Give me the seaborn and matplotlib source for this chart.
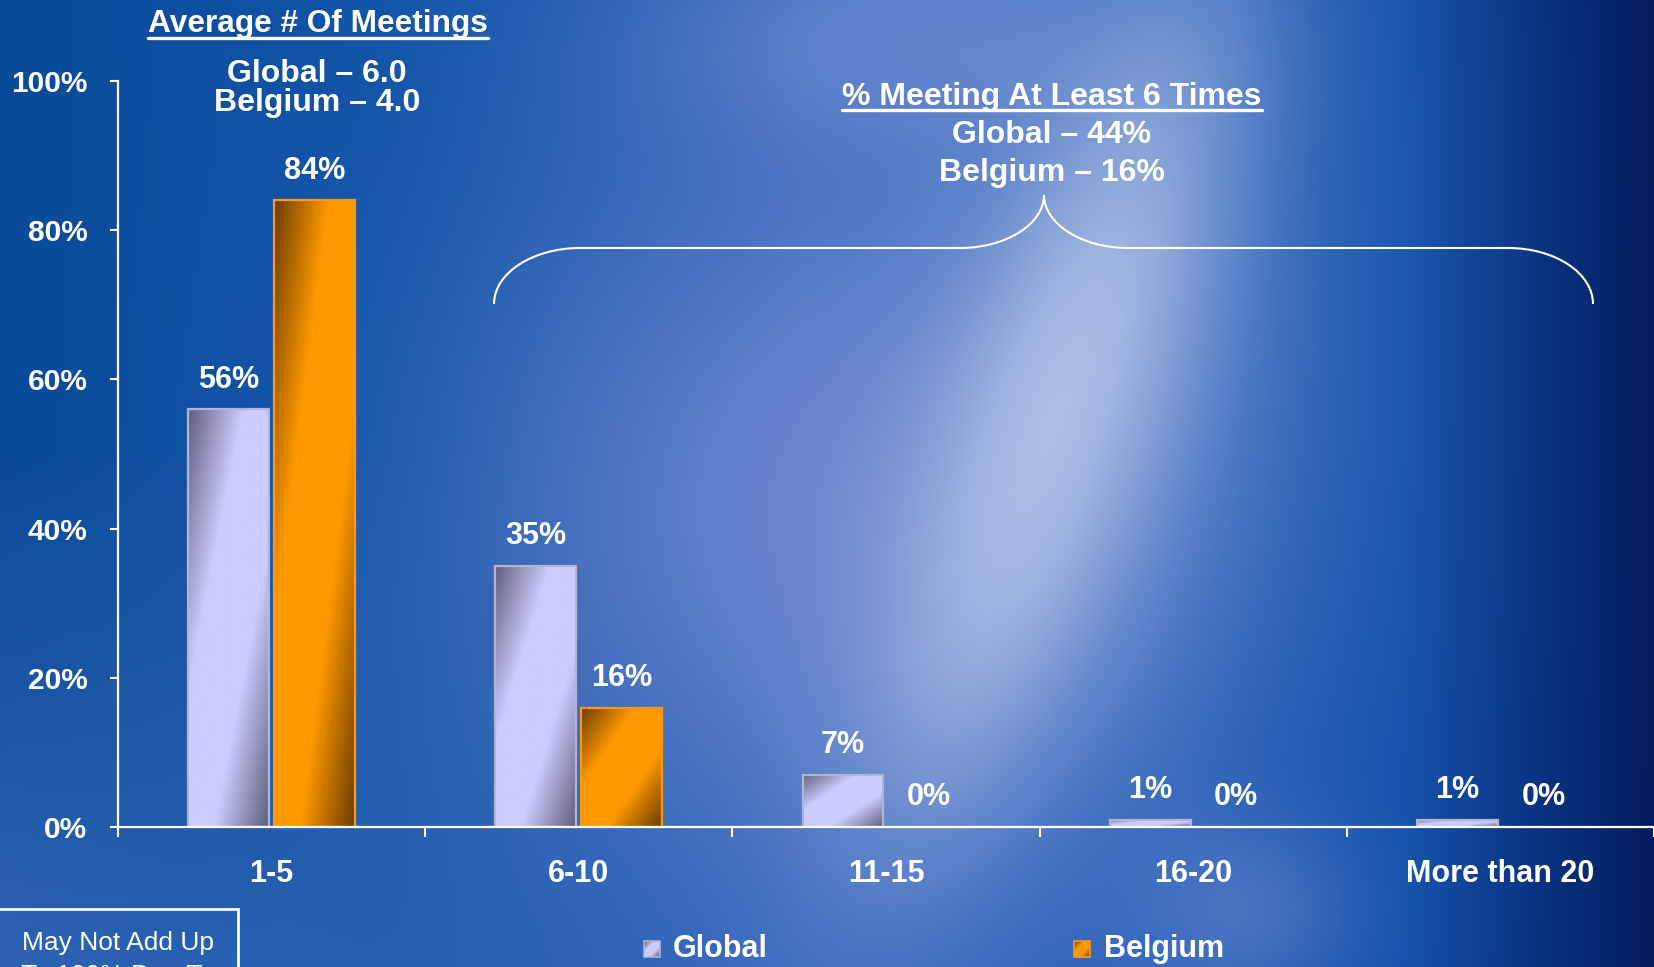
import numpy as np
import pandas as pd
import matplotlib
matplotlib.use("Agg")
import matplotlib.pyplot as plt
import seaborn as sns
from matplotlib.path import Path
from matplotlib.patches import PathPatch, Rectangle
from matplotlib.lines import Line2D

# ---------------- data ----------------
categories = ["1-5", "6-10", "11-15", "16-20", "More than 20"]
series = ["Global", "Belgium"]
global_vals = [56, 35, 7, 1, 1]
belgium_vals = [84, 16, 0, 0, 0]
y_ticks = [0, 20, 40, 60, 80, 100]
y_tick_labels = ["0%", "20%", "40%", "60%", "80%", "100%"]

title_left = "Average # Of Meetings"
left_lines = ["Global \u2013 6.0", "Belgium \u2013 4.0"]
title_right = "% Meeting At Least 6 Times"
right_lines = ["Global \u2013 44%", "Belgium \u2013 16%"]
note_lines = ["May Not Add Up", "To 100% Due To"]

df = pd.DataFrame({
    "Category": categories * 2,
    "Series": [series[0]] * len(categories) + [series[1]] * len(categories),
    "Value": global_vals + belgium_vals,
})

W, H = 1654, 967
DPI = 100
FONT = ["Liberation Sans", "DejaVu Sans"]

sns.set_theme(style="white")
plt.rcParams["font.family"] = FONT

fig = plt.figure(figsize=(W / DPI, H / DPI), dpi=DPI)


# ---------------- background ----------------
def make_background():
    yy, xx = np.mgrid[0:H, 0:W].astype(float)
    xs = [0, 400, 800, 1150, 1400, 1540, 1654]
    cs = np.array([(10, 74, 154), (18, 84, 168), (50, 100, 188), (40, 96, 184),
                   (18, 82, 170), (8, 50, 128), (4, 28, 92)], float)
    img = np.zeros((H, W, 3))
    for k in range(3):
        img[..., k] = np.interp(xx, xs, cs[:, k])
    # lighter lower-left
    a = np.clip((yy - 450) / 520, 0, 1) * np.clip((900 - xx) / 900, 0, 1)
    img = img * (1 - 0.55 * a[..., None]) + np.array([78, 118, 198]) * (0.55 * a[..., None])

    def mix(img, alpha, col):
        alpha = np.clip(alpha, 0, 1)[..., None]
        return img * (1 - alpha) + np.array(col, float) * alpha

    # diffuse lavender cloud
    g = np.exp(-(((xx - 830) / 360) ** 2 + ((yy - 500) / 330) ** 2))
    img = mix(img, 0.75 * g, (115, 138, 208))
    # top glow
    g = np.exp(-(((xx - 920) / 260) ** 2 + ((yy - 40) / 120) ** 2))
    img = mix(img, 0.6 * g, (125, 148, 212))
    # bright beam
    p0 = np.array([1170.0, 90.0]); p1 = np.array([900.0, 860.0])
    d = p1 - p0; L = np.hypot(*d); u = d / L
    rx, ry = xx - p0[0], yy - p0[1]
    along = rx * u[0] + ry * u[1]
    perp = rx * (-u[1]) + ry * u[0]
    env = np.exp(-((along - 0.42 * L) / (0.48 * L)) ** 2)
    g = np.exp(-(perp / 110) ** 2) * env
    img = mix(img, 0.85 * g, (198, 210, 238))
    g = np.exp(-(perp / 230) ** 2) * env
    img = mix(img, 0.35 * g, (160, 180, 225))
    # lower right streak
    g = np.exp(-(((xx - 1240) / 110) ** 2 + ((yy - 910) / 90) ** 2))
    img = mix(img, 0.5 * g, (110, 135, 205))
    return np.clip(img, 0, 255).astype(np.uint8)


fig.figimage(make_background(), xo=0, yo=0, origin="upper", zorder=-10)

# ---------------- axes ----------------
ax_left, ax_bottom = 118, 140
ax_h = 746
ax = fig.add_axes([ax_left / W, ax_bottom / H, (W - ax_left) / W, ax_h / H])
ax.patch.set_alpha(0)

sns.barplot(data=df, x="Category", y="Value", hue="Series", order=categories,
            hue_order=series, palette=["#ccccff", "#ff9900"], width=0.56, gap=0.06,
            saturation=1, legend=False, ax=ax)

grad_cols = {
    0: (np.array([0x5e, 0x5e, 0x7c]), np.array([0xcc, 0xcc, 0xff]), "#b4b4d2"),
    1: (np.array([0x6b, 0x3c, 0x00]), np.array([0xff, 0x99, 0x00]), "#ff9a10"),
}


def gradient(dark, light, n=200):
    u = np.linspace(0, 1, n)
    w = np.linspace(0, 1, n)
    U, Wt = np.meshgrid(u, w)
    t = (U + Wt) / 2
    s = np.interp(t, [0, 0.34, 0.66, 1], [0, 1, 1, 0])
    return (dark[None, None, :] * (1 - s[..., None]) + light[None, None, :] * s[..., None]) / 255


for i, cont in enumerate(ax.containers):
    dark, light, edge = grad_cols[i]
    grad = gradient(dark, light)
    for bar in cont:
        h = bar.get_height()
        if h <= 0:
            bar.set_visible(False)
            continue
        x0 = bar.get_x(); bw = bar.get_width()
        im = ax.imshow(grad, extent=[x0, x0 + bw, 0, h], aspect="auto",
                       origin="upper", zorder=1.5, interpolation="bilinear")
        im.set_clip_path(bar)
        bar.set_facecolor("none")
        bar.set_edgecolor(edge)
        bar.set_linewidth(1.6)
        bar.set_zorder(2)

# value labels
for i, cont in enumerate(ax.containers):
    vals = global_vals if i == 0 else belgium_vals
    for bar, v in zip(cont, vals):
        cx = bar.get_x() + bar.get_width() / 2
        ax.annotate(f"{v}%", (cx, bar.get_height()), xytext=(0, 15.5),
                    textcoords="offset points", ha="center", va="baseline",
                    color="white", fontsize=22, fontweight="bold", family=FONT)

ax.set_xlim(-0.5, len(categories) - 0.5)
ax.set_ylim(0, 100)
ax.set_xlabel("")
ax.set_ylabel("")
ax.set_yticks(y_ticks)
ax.set_yticklabels(y_tick_labels)
ax.set_xticks(range(len(categories)))
ax.set_xticklabels(categories)
ax.set_xticks(np.arange(-0.5, len(categories) + 0.5, 1), minor=True)
for s in ["top", "right"]:
    ax.spines[s].set_visible(False)
for s in ["left", "bottom"]:
    ax.spines[s].set_color("white")
    ax.spines[s].set_linewidth(1.6)
ax.tick_params(axis="y", which="major", direction="out", length=6, width=1.5,
               color="white", labelcolor="white", labelsize=21.5, pad=16, left=True)
ax.tick_params(axis="x", which="major", length=0, labelcolor="white",
               labelsize=22, pad=23, bottom=True)
ax.tick_params(axis="x", which="minor", direction="out", length=7, width=1.5,
               color="white", bottom=True)
for lab in ax.get_xticklabels() + ax.get_yticklabels():
    lab.set_fontweight("bold")
ax.grid(False)


# ---------------- annotations ----------------
def ftext(x, y, s, **kw):
    kw.setdefault("color", "white")
    kw.setdefault("ha", "center")
    kw.setdefault("va", "baseline")
    kw.setdefault("fontweight", "bold")
    kw.setdefault("family", FONT)
    return fig.text(x / W, 1 - y / H, s, **kw)


t1 = ftext(318, 32, title_left, fontsize=22.8)
ftext(317, 82, left_lines[0], fontsize=23)
ftext(317, 111, left_lines[1], fontsize=23)
t2 = ftext(1052, 105, title_right, fontsize=23)
ftext(1052, 143, right_lines[0], fontsize=23)
ftext(1052, 181, right_lines[1], fontsize=23)

fig.canvas.draw()
rend = fig.canvas.get_renderer()
for t, uy in [(t1, 38), (t2, 110)]:
    bb = t.get_window_extent(rend)
    fig.add_artist(Line2D([bb.x0 / W, bb.x1 / W], [1 - uy / H, 1 - uy / H],
                          transform=fig.transFigure, color="white", lw=2.4))

# brace
def P(x, y):
    return (x / W, 1 - y / H)

verts = [P(494, 304), P(494, 273), P(533, 248), P(580, 248),
         P(960, 248),
         P(1006, 248), P(1044, 224), P(1044, 195),
         P(1044, 224), P(1082, 248), P(1128, 248),
         P(1508, 248),
         P(1555, 248), P(1593, 273), P(1593, 304)]
codes = [Path.MOVETO, Path.CURVE4, Path.CURVE4, Path.CURVE4,
         Path.LINETO,
         Path.CURVE4, Path.CURVE4, Path.CURVE4,
         Path.CURVE4, Path.CURVE4, Path.CURVE4,
         Path.LINETO,
         Path.CURVE4, Path.CURVE4, Path.CURVE4]
fig.add_artist(PathPatch(Path(verts, codes), transform=fig.transFigure,
                         facecolor="none", edgecolor="white", lw=1.5))

# note box (runs off the bottom edge as in the reference)
fig.add_artist(Rectangle((-2 / W, -60 / H), 240 / W, (967 - 909 + 60) / H,
                         transform=fig.transFigure, facecolor="none",
                         edgecolor="white", lw=2))
ftext(118, 950, note_lines[0], fontsize=19, fontweight="normal")
ftext(118, 983, note_lines[1], fontsize=19, fontweight="normal")

# legend
leg_items = [(644, 673, series[0], 0), (1074, 1104, series[1], 1)]
for sx, tx, name, i in leg_items:
    dark, light, edge = grad_cols[i]
    sq = (gradient(dark, light, 16) * 255).astype(np.uint8)
    fig.figimage(sq, xo=sx, yo=H - 957, origin="upper", zorder=5)
    fig.add_artist(Rectangle((sx / W, (H - 957) / H), 16 / W, 16 / H,
                             transform=fig.transFigure, facecolor="none",
                             edgecolor=edge, lw=1.2, zorder=6))
    ftext(tx, 957, name, fontsize=22, ha="left")

fig.savefig("out.png", dpi=DPI)
